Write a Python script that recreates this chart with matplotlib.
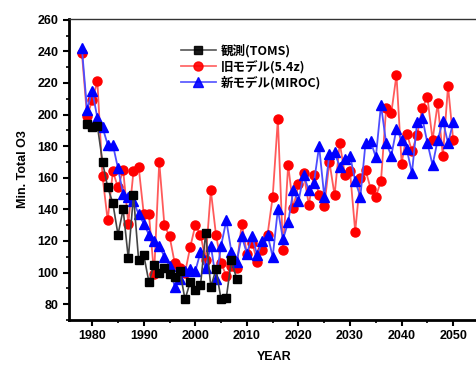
#min total O3 - observed vs old model vs new model
import numpy as np
import matplotlib
matplotlib.use('Agg')
import matplotlib.pyplot as plt
from matplotlib.ticker import MultipleLocator

plt.rcParams['font.family'] = ['Liberation Sans', 'Noto Sans CJK JP', 'DejaVu Sans']
plt.rcParams['font.weight'] = 'bold'

# observed (TOMS), 1979-2008
obs_years = np.arange(1979, 2009)
obs_vals = [194, 192, 193, 170, 154, 144, 124, 140, 109, 149,
            108, 111, 94, 105, 100, 103, 99, 97, 101, 83,
            94, 89, 92, 125, 91, 102, 83, 84, 108, 96]

# model years 1978-2050
mod_years = np.arange(1978, 2051)
old_vals = [239, 199, 209, 221, 161, 133, 164, 154, 165, 131,
            164, 167, 137, 137, 99, 170, 130, 123, 106, 103,
            100, 116, 130, 124, 108, 152, 124, 106, 98, 104,
            103, 131, 112, 119, 107, 114, 124, 148, 197, 114,
            168, 141, 156, 163, 143, 162, 149, 142, 170, 149,
            182, 162, 164, 126, 160, 165, 153, 148, 158, 204,
            201, 225, 169, 188, 177, 187, 204, 211, 184, 207,
            174, 218, 184]
new_vals = [242, 203, 215, 198, 192, 181, 181, 166, 150, 148,
            145, 137, 131, 124, 120, 117, 110, 104, 91, 96,
            101, 102, 101, 113, 103, 117, 96, 117, 133, 113,
            107, 123, 112, 123, 111, 120, 124, 110, 140, 121,
            132, 152, 145, 162, 152, 157, 180, 148, 175, 176,
            167, 172, 174, 158, 148, 182, 183, 173, 206, 182,
            174, 191, 184, 178, 163, 195, 198, 182, 168, 184,
            196, 182, 195]

labels = ['観測(TOMS)', '旧モデル(5.4z)', '新モデル(MIROC)']

fig = plt.figure(figsize=(4.76, 3.67), dpi=100)
ax = fig.add_axes([69/476, 0.128, 411/476, 0.82])

l_old, = ax.plot(mod_years, old_vals, '-o', color='#ff5a5a', lw=1.3,
                 mfc='red', mec='red', ms=6.5, zorder=2)
l_new, = ax.plot(mod_years, new_vals, '-^', color='#4d4dff', lw=1.3,
                 mfc='blue', mec='blue', ms=6.5, zorder=3)
l_obs, = ax.plot(obs_years, obs_vals, '-s', color='#444444', lw=1.2,
                 mfc='black', mec='black', ms=5.5, zorder=4)

ax.set_xlim(1975.5, 2055.2)
ax.set_ylim(70, 260.4)
ax.xaxis.set_major_locator(MultipleLocator(10))
ax.xaxis.set_minor_locator(MultipleLocator(5))
ax.yaxis.set_major_locator(MultipleLocator(20))
ax.yaxis.set_minor_locator(MultipleLocator(10))
ax.set_yticks(np.arange(80, 261, 20))

ax.tick_params(which='major', direction='out', length=4, width=1.5, labelsize=9)
ax.tick_params(which='minor', direction='out', length=2.5, width=1.2)
for t in ax.get_xticklabels() + ax.get_yticklabels():
    t.set_fontweight('bold')

ax.spines['left'].set_linewidth(2)
ax.spines['bottom'].set_linewidth(2)
ax.spines['top'].set_linewidth(1)
ax.spines['top'].set_color('#333333')
ax.spines['right'].set_visible(False)

ax.set_xlabel('YEAR', fontsize=9, fontweight='bold', labelpad=6)
ax.set_ylabel('Min. Total O3', fontsize=9, fontweight='bold', labelpad=6)

leg = ax.legend([l_obs, l_old, l_new], labels, loc='upper left',
                bbox_to_anchor=(0.245, 0.955), frameon=False,
                handlelength=2.8, labelspacing=0.2, handletextpad=0.4,
                prop={'family': ['Noto Sans CJK JP', 'DejaVu Sans'], 'weight': 'bold', 'size': 9})
for h in leg.legend_handles:
    h.set_alpha(0.9)

fig.savefig('out.png', dpi=100)
